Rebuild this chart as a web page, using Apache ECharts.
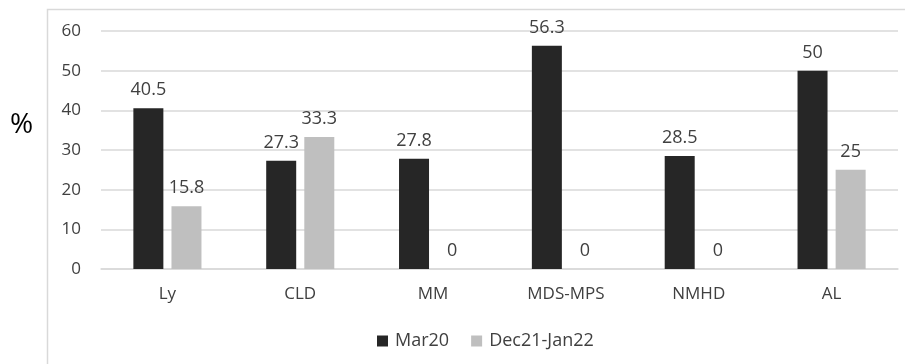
<!DOCTYPE html>
<html>
<head>
<meta charset="utf-8">
<script src="https://cdn.jsdelivr.net/npm/echarts@6/dist/echarts.min.js"></script>
<style>
  html, body { margin: 0; padding: 0; background: #fff; }
  #chart { width: 905px; height: 364px; }
</style>
</head>
<body>
<div id="chart"></div>
<script>
const categories = ['Ly', 'CLD', 'MM', 'MDS-MPS', 'NMHD', 'AL'];
const mar20 = [40.5, 27.3, 27.8, 56.3, 28.5, 50];
const dec21jan22 = [15.8, 33.3, 0, 0, 0, 25];
const seriesNames = ['Mar20', 'Dec21-Jan22'];

const font = '"Open Sans", "Noto Sans", sans-serif';
const textColor = '#404040';

const chart = echarts.init(document.getElementById('chart'), null, { renderer: 'canvas' });

function barSeries(name, data, color) {
  return {
    name: name,
    type: 'bar',
    data: data,
    barWidth: 30,
    barGap: '27%',
    itemStyle: { color: color },
    label: {
      show: true,
      position: 'top',
      distance: 9,
      color: textColor,
      fontFamily: font,
      fontSize: 18
    }
  };
}

chart.setOption({
  animation: false,
  graphic: [
    {
      type: 'rect',
      shape: { x: 47.5, y: 9.5, width: 900, height: 400 },
      style: { fill: 'none', stroke: '#d9d9d9', lineWidth: 1.5 }
    },
    {
      type: 'text',
      left: 10,
      top: 111,
      style: { text: '%', fill: '#000', font: '28px ' + font }
    }
  ],
  grid: { left: 101, right: 7, top: 31, bottom: 95, containLabel: false },
  legend: {
    data: seriesNames,
    bottom: 9,
    left: 372,
    itemWidth: 11,
    itemHeight: 11,
    itemGap: 22,
    icon: 'rect',
    textStyle: { color: textColor, fontFamily: font, fontSize: 18, padding: [0, 0, 0, 2] }
  },
  xAxis: {
    type: 'category',
    data: categories,
    axisLine: { lineStyle: { color: '#d9d9d9', width: 1.5 } },
    axisTick: { show: false },
    axisLabel: { color: textColor, fontFamily: font, fontSize: 17, margin: 17 }
  },
  yAxis: {
    type: 'value',
    min: 0,
    max: 60,
    interval: 10,
    axisLine: { show: false },
    axisTick: { show: false },
    splitLine: { lineStyle: { color: '#d9d9d9', width: 1.5 } },
    axisLabel: { color: textColor, fontFamily: font, fontSize: 17, margin: 20 }
  },
  series: [
    barSeries(seriesNames[0], mar20, '#262626'),
    barSeries(seriesNames[1], dec21jan22, '#bfbfbf')
  ]
});
</script>
</body>
</html>
